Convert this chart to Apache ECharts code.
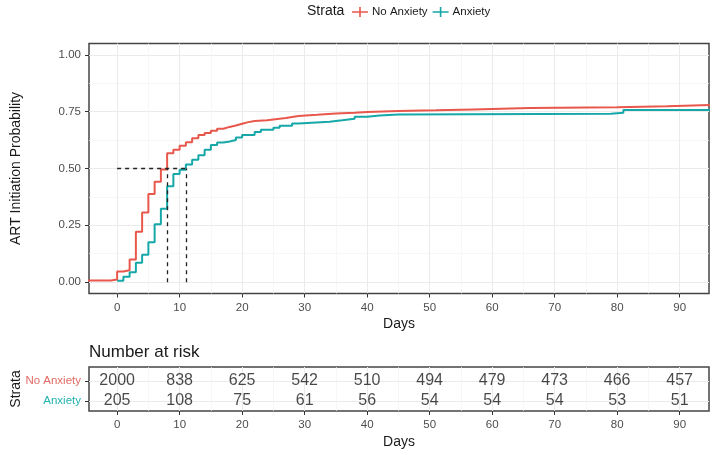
<!DOCTYPE html>
<html>
<head>
<meta charset="utf-8">
<script src="https://cdn.jsdelivr.net/npm/echarts@6/dist/echarts.min.js"></script>
<style>html,body{margin:0;padding:0;background:#fff}#c{width:714px;height:455px}</style>
</head>
<body>
<div id="c"></div>
<script>
// ---- data ----
const strata = ['No Anxiety', 'Anxiety'];
const noAnxTimes = [-5, -1, 0, 1, 2, 3, 4, 5, 6, 7, 8, 9, 10, 11, 12, 13, 14, 15, 16, 17, 18, 19, 20, 21, 22, 24, 25, 27, 28, 29, 32, 35, 38, 40, 45, 51, 57, 66, 80, 88, 96];
const noAnxProb  = [0.007, 0.012, 0.047, 0.052, 0.100, 0.222, 0.306, 0.388, 0.442, 0.496, 0.567, 0.582, 0.600, 0.615, 0.633, 0.647, 0.656, 0.666, 0.675, 0.683, 0.689, 0.697, 0.704, 0.709, 0.712, 0.716, 0.722, 0.727, 0.731, 0.736, 0.742, 0.745, 0.749, 0.753, 0.756, 0.760, 0.766, 0.770, 0.774, 0.780, 0.780];
const anxTimes = [0, 1, 2, 3, 4, 5, 6, 7, 8, 9, 10, 11, 12, 13, 14, 15, 16, 17, 18, 19, 20, 22, 23, 25, 26, 28, 29, 34, 36, 38, 40, 42, 45, 79, 81, 96];
const anxProb  = [0.006, 0.024, 0.043, 0.085, 0.120, 0.175, 0.255, 0.323, 0.422, 0.476, 0.495, 0.518, 0.538, 0.558, 0.582, 0.603, 0.614, 0.619, 0.625, 0.636, 0.647, 0.661, 0.670, 0.679, 0.688, 0.698, 0.706, 0.712, 0.719, 0.728, 0.733, 0.738, 0.741, 0.745, 0.757, 0.757];
const medianTimes = [8, 11];
const medianProb = 0.5;
const xTicks = [0, 10, 20, 30, 40, 50, 60, 70, 80, 90];
const xMinorTicks = [-5, 5, 15, 25, 35, 45, 55, 65, 75, 85];
const yTicks = [0, 0.25, 0.5, 0.75, 1.0];
const yMinorTicks = [0.125, 0.375, 0.625, 0.875];
const riskTimes = [0, 10, 20, 30, 40, 50, 60, 70, 80, 90];
const riskNoAnx = [2000, 838, 625, 542, 510, 494, 479, 473, 466, 457];
const riskAnx   = [205, 108, 75, 61, 56, 54, 54, 54, 53, 51];

// ---- styles ----
const FONT = "'Liberation Sans', Arial, sans-serif";
const RED = '#E8574B', TEAL = '#16A8A8';
const RED_LBL = '#E36B64', TEAL_LBL = '#22B2B2';
const XMIN = -4.5, XMAX = 94.7;

const chart = echarts.init(document.getElementById('c'), null, {renderer: 'canvas'});

const tick = {show: true, length: 4, lineStyle: {color: '#333', width: 1}};
const lbl = {color: '#4D4D4D', fontSize: 11.5, fontFamily: FONT};
const major = {show: true, lineStyle: {color: '#EBEBEB', width: 1}};
const minor = {show: true, lineStyle: {color: '#F3F3F3', width: 0.7}};
const noLine = {show: false, onZero: false};

const legendIcon = 'path://M0,4.2 L16,4.2 L16,5.8 L0,5.8 Z M7.2,0 L8.8,0 L8.8,10 L7.2,10 Z';

chart.setOption({
  animation: false,
  textStyle: {fontFamily: FONT},
  title: [
    {text: 'Strata', left: 307, top: 4, padding: 0,
     textStyle: {fontSize: 14, fontWeight: 'normal', color: '#1a1a1a', fontFamily: FONT}},
    {text: 'Number at risk', left: 89, top: 344, padding: 0,
     textStyle: {fontSize: 17, fontWeight: 'normal', color: '#1a1a1a', fontFamily: FONT}}
  ],
  legend: {
    data: strata.map(s => ({name: s, icon: legendIcon})),
    left: 352, top: 6, padding: 0, itemGap: 5, itemWidth: 16, itemHeight: 10,
    selectedMode: false,
    textStyle: {fontSize: 11.5, color: '#1a1a1a', fontFamily: FONT, padding: [0, 0, 0, -1]}
  },
  grid: [
    {left: 89, right: 5, top: 43.5, height: 250, show: true, borderColor: '#444', borderWidth: 1.5,
     backgroundColor: 'transparent', containLabel: false, outerBoundsMode: 'none'},
    {left: 89, right: 5, top: 367, height: 44, show: true, borderColor: '#444', borderWidth: 1.5,
     backgroundColor: 'transparent', containLabel: false, outerBoundsMode: 'none'}
  ],
  xAxis: [
    {type: 'value', gridIndex: 0, min: XMIN, max: XMAX,
     name: 'Days', nameLocation: 'middle', nameGap: 24, nameMoveOverlap: false,
     nameTextStyle: {fontSize: 14, color: '#1a1a1a', fontFamily: FONT},
     axisLine: noLine,
     axisTick: Object.assign({customValues: xTicks}, tick),
     axisLabel: Object.assign({customValues: xTicks, margin: 8}, lbl),
     splitLine: major},
    {type: 'value', gridIndex: 0, min: XMIN, max: XMAX, position: 'bottom',
     axisLine: noLine, axisTick: {show: false, customValues: xMinorTicks},
     axisLabel: {show: false, customValues: xMinorTicks}, splitLine: minor},
    {type: 'value', gridIndex: 1, min: XMIN, max: XMAX,
     name: 'Days', nameLocation: 'middle', nameGap: 24, nameMoveOverlap: false,
     nameTextStyle: {fontSize: 14, color: '#1a1a1a', fontFamily: FONT},
     axisLine: noLine,
     axisTick: Object.assign({customValues: xTicks}, tick),
     axisLabel: Object.assign({customValues: xTicks, margin: 8}, lbl),
     splitLine: major},
    {type: 'value', gridIndex: 1, min: XMIN, max: XMAX, position: 'bottom',
     axisLine: noLine, axisTick: {show: false, customValues: xMinorTicks},
     axisLabel: {show: false, customValues: xMinorTicks}, splitLine: minor}
  ],
  yAxis: [
    {type: 'value', gridIndex: 0, min: -0.05, max: 1.05,
     name: 'ART Initiation Probability', nameLocation: 'middle', nameGap: 66, nameMoveOverlap: false,
     nameTextStyle: {fontSize: 14, color: '#1a1a1a', fontFamily: FONT},
     axisLine: noLine,
     axisTick: Object.assign({customValues: yTicks}, tick),
     axisLabel: Object.assign({customValues: yTicks, margin: 8, formatter: v => v.toFixed(2)}, lbl),
     splitLine: major},
    {type: 'value', gridIndex: 0, min: -0.05, max: 1.05, position: 'left',
     axisLine: noLine, axisTick: {show: false, customValues: yMinorTicks},
     axisLabel: {show: false, customValues: yMinorTicks}, splitLine: minor},
    {type: 'value', gridIndex: 1, min: 0.5, max: 2.7,
     name: 'Strata', nameLocation: 'middle', nameGap: 66, nameMoveOverlap: false,
     nameTextStyle: {fontSize: 14, color: '#1a1a1a', fontFamily: FONT},
     axisLine: noLine,
     axisTick: Object.assign({customValues: [1, 2]}, tick),
     axisLabel: {customValues: [1, 2], margin: 8, fontSize: 11.5, fontFamily: FONT,
       formatter: v => v === 2 ? '{a|' + strata[0] + '}' : '{b|' + strata[1] + '}',
       rich: {a: {color: RED_LBL, fontSize: 11.5, fontFamily: FONT}, b: {color: TEAL_LBL, fontSize: 11.5, fontFamily: FONT}}},
     splitLine: major}
  ],
  series: [
    {name: strata[0], type: 'line', xAxisIndex: 0, yAxisIndex: 0, step: 'end', showSymbol: false,
     clip: true, lineStyle: {color: RED, width: 2}, itemStyle: {color: RED},
     data: noAnxTimes.map((t, i) => [t, noAnxProb[i]]),
     markLine: {silent: true, symbol: 'none', label: {show: false},
       lineStyle: {color: '#222', width: 1.3, type: [4, 4]},
       data: [
         [{coord: [0, medianProb]}, {coord: [medianTimes[1], medianProb]}],
         [{coord: [medianTimes[0], 0]}, {coord: [medianTimes[0], medianProb]}],
         [{coord: [medianTimes[1], 0]}, {coord: [medianTimes[1], medianProb]}]
       ]}},
    {name: strata[1], type: 'line', xAxisIndex: 0, yAxisIndex: 0, step: 'end', showSymbol: false,
     clip: true, lineStyle: {color: TEAL, width: 2}, itemStyle: {color: TEAL},
     data: anxTimes.map((t, i) => [t, anxProb[i]])},
    {type: 'scatter', xAxisIndex: 2, yAxisIndex: 2, symbolSize: 0, silent: true,
     data: riskTimes.map((t, i) => [t, 2, riskNoAnx[i]]),
     label: {show: true, position: 'inside', formatter: p => String(p.value[2]),
       fontSize: 16, color: '#1a1a1a', fontFamily: FONT}},
    {type: 'scatter', xAxisIndex: 2, yAxisIndex: 2, symbolSize: 0, silent: true,
     data: riskTimes.map((t, i) => [t, 1, riskAnx[i]]),
     label: {show: true, position: 'inside', formatter: p => String(p.value[2]),
       fontSize: 16, color: '#1a1a1a', fontFamily: FONT}}
  ]
});
</script>
</body>
</html>
